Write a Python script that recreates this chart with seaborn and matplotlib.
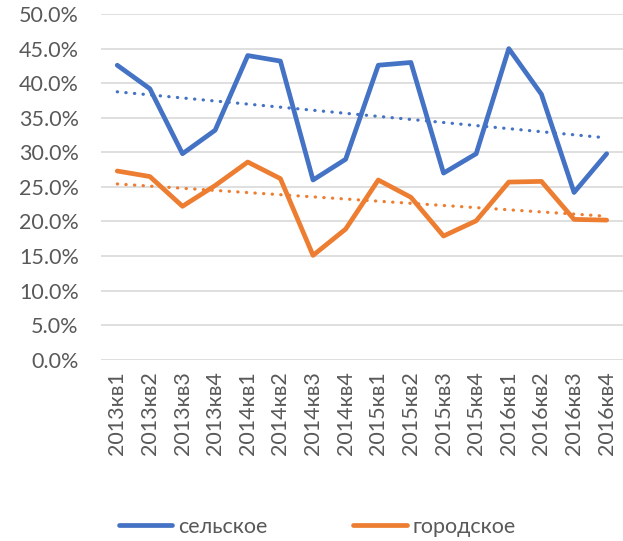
import numpy as np
import pandas as pd
import matplotlib.pyplot as plt
import seaborn as sns
from matplotlib.ticker import PercentFormatter
from matplotlib.lines import Line2D

quarters = ["2013кв1", "2013кв2", "2013кв3", "2013кв4",
            "2014кв1", "2014кв2", "2014кв3", "2014кв4",
            "2015кв1", "2015кв2", "2015кв3", "2015кв4",
            "2016кв1", "2016кв2", "2016кв3", "2016кв4"]
rural = [42.6, 39.2, 29.8, 33.2, 44.0, 43.2, 26.0, 29.0,
         42.6, 43.0, 27.0, 29.8, 45.0, 38.4, 24.2, 29.8]
urban = [27.3, 26.5, 22.2, 25.2, 28.6, 26.2, 15.1, 18.9,
         26.0, 23.5, 17.9, 20.1, 25.7, 25.8, 20.3, 20.2]
series_names = ["сельское", "городское"]
colors = ["#4472C4", "#ED7D31"]

sns.set_theme(style="white")
plt.rcParams['font.family'] = ['Lato', 'DejaVu Sans']
text_color = "#595959"

df = pd.DataFrame({
    "idx": list(range(len(quarters))) * 2,
    "value": [v / 100 for v in rural] + [v / 100 for v in urban],
    "series": [series_names[0]] * len(quarters) + [series_names[1]] * len(quarters),
})

fig = plt.figure(figsize=(6.23, 5.41), dpi=100)
ax = fig.add_axes([0.162, 0.335, 0.838, 0.639])

sns.lineplot(data=df, x="idx", y="value", hue="series", palette=colors,
             linewidth=3.4, ax=ax, legend=False)

# linear trend lines (Excel-style round dots)
for name, col in zip(series_names, colors):
    sub = df[df["series"] == name]
    sns.regplot(data=sub, x="idx", y="value", scatter=False, ci=None, ax=ax,
                line_kws={"color": col, "linestyle": (0, (0.1, 2.6)), "linewidth": 2.3,
                          "dash_capstyle": "round"})

ax.set_xlim(-0.5, len(quarters) - 0.5)
ax.set_ylim(0, 0.5)
ax.set_yticks(np.arange(0, 0.51, 0.05))
ax.yaxis.set_major_formatter(PercentFormatter(1.0, decimals=1))
ax.set_xticks(range(len(quarters)))
ax.set_xticklabels(quarters, rotation=90)
ax.set_xlabel("")
ax.set_ylabel("")
ax.grid(axis="y", color="#D9D9D9", linewidth=1.2)
ax.set_axisbelow(True)
for s in ax.spines.values():
    s.set_visible(False)
ax.tick_params(axis="both", length=0, labelsize=15.5, colors=text_color)
ax.tick_params(axis="y", pad=16)
ax.tick_params(axis="x", pad=8)

handles = [Line2D([], [], color=c, linewidth=3.4, solid_capstyle="round") for c in colors]
fig.legend(handles, series_names, loc="center", bbox_to_anchor=(0.509, 0.026),
           ncol=2, frameon=False, fontsize=15.5, handlelength=2.5, handletextpad=0.25,
           columnspacing=4.0, labelcolor=text_color)

fig.savefig("out.png", dpi=100)
